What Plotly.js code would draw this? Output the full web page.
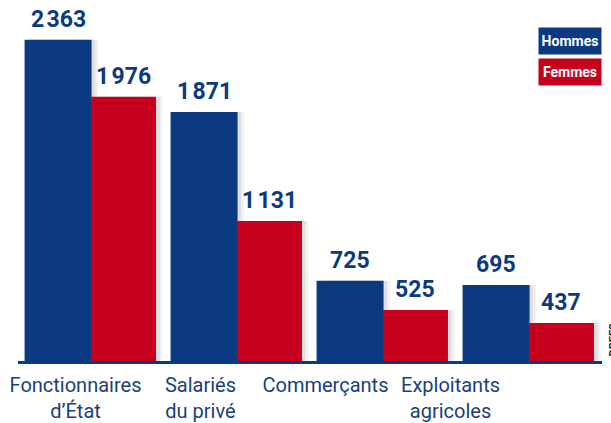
<!DOCTYPE html>
<html>
<head>
<meta charset="utf-8">
<script src="https://cdn.plot.ly/plotly-3.0.1.min.js"></script>
<style>
  html, body { margin: 0; padding: 0; background: #ffffff; }
  #chart { width: 611px; height: 423px; }
</style>
</head>
<body>
<div id="chart"></div>
<script>
// ---- Data ----
const categories = ["Fonctionnaires<br>d’État", "Salariés<br>du privé", "Commerçants", "Exploitants<br>agricoles"];
const seriesNames = ["Hommes", "Femmes"];
const hommes = [2363, 1871, 725, 695];
const femmes = [1976, 1131, 525, 437];
const sourceText = "DREES";

// ---- Styles ----
const BLUE = "#0c3a80";
const RED = "#c6001c";
const LABEL = "#1a3f7c";
const FONT = "Roboto, 'Liberation Sans', sans-serif";

const idx = categories.map((_, i) => i);
const blueW = 0.459, blueOff = -0.455;
const redW = 0.445, redOff = 0.0;

function fmt(v) {
  return v >= 1000 ? Math.floor(v / 1000) + "\u200A" + String(v % 1000).padStart(3, "0") : String(v);
}

function shadow(vals, off, w, dx, alpha) {
  return {
    type: "bar", x: idx, y: vals, offset: off + dx, width: w,
    marker: { color: "rgba(0,0,0," + alpha + ")", line: { width: 0 } },
    hoverinfo: "skip", showlegend: false
  };
}

const traces = [
  shadow(hommes, blueOff, blueW, 0.045, 0.05),
  shadow(hommes, blueOff, blueW, 0.025, 0.08),
  shadow(femmes, redOff, redW, 0.045, 0.05),
  shadow(femmes, redOff, redW, 0.025, 0.08),
  {
    type: "bar", name: seriesNames[0], x: idx, y: hommes, offset: blueOff, width: blueW,
    marker: { color: BLUE, line: { width: 0 } }, showlegend: false
  },
  {
    type: "bar", name: seriesNames[1], x: idx, y: femmes, offset: redOff, width: redW,
    marker: { color: RED, line: { width: 0 } }, showlegend: false
  },
  {
    type: "scatter", mode: "markers", x: idx, y: idx.map(() => null),
    xaxis: "x2", yaxis: "y", hoverinfo: "skip", showlegend: false
  }
];

const annotations = [];
hommes.forEach((v, i) => annotations.push({
  x: i + blueOff + blueW / 2, y: v, xref: "x", yref: "y", text: "<b>" + fmt(v) + "</b>",
  showarrow: false, yanchor: "bottom", yshift: 5,
  font: { family: FONT, size: 23, color: BLUE }
}));
femmes.forEach((v, i) => annotations.push({
  x: i + redOff + redW / 2, y: v, xref: "x", yref: "y", text: "<b>" + fmt(v) + "</b>",
  showarrow: false, yanchor: "bottom", yshift: 5,
  font: { family: FONT, size: 23, color: BLUE }
}));
// legend boxes
[[seriesNames[0], BLUE, -7], [seriesNames[1], RED, -38]].forEach(([t, c, dy]) => annotations.push({
  x: 1, y: 1, xref: "paper", yref: "paper", xanchor: "right", yanchor: "top",
  yshift: dy, text: "<b>" + t + "</b>", showarrow: false,
  bgcolor: c, width: 58, height: 22, borderpad: 2,
  font: { family: FONT, size: 14, color: "#ffffff" }
}));
// source (cut off at right edge)
annotations.push({
  x: 1, y: 0, xref: "paper", yref: "paper", xanchor: "left", yanchor: "bottom",
  xshift: 2, yshift: 2, text: "<b>" + sourceText + "</b>", textangle: -90,
  showarrow: false, font: { family: FONT, size: 11, color: "#222222" }
});

const layout = {
  width: 611, height: 423,
  margin: { l: 18, r: 9, t: 20, b: 62 },
  paper_bgcolor: "#ffffff", plot_bgcolor: "#ffffff",
  barmode: "overlay",
  showlegend: false,
  xaxis: {
    type: "linear", range: [-0.5, 3.5], showticklabels: false,
    showgrid: false, zeroline: false, ticks: "",
    showline: true, linecolor: BLUE, linewidth: 3
  },
  xaxis2: {
    type: "linear", overlaying: "x", anchor: "y", side: "bottom",
    range: [-0.46, 4.212], tickvals: idx, ticktext: categories,
    showgrid: false, zeroline: false, showline: false, ticks: "",
    tickangle: 0, ticklabelstandoff: 10,
    tickfont: { family: FONT, size: 20, color: LABEL }
  },
  yaxis: {
    range: [179, 2497], visible: false, showgrid: false, zeroline: false
  },
  annotations: annotations
};

Plotly.newPlot("chart", traces, layout, { displayModeBar: false, staticPlot: true });
</script>
</body>
</html>
